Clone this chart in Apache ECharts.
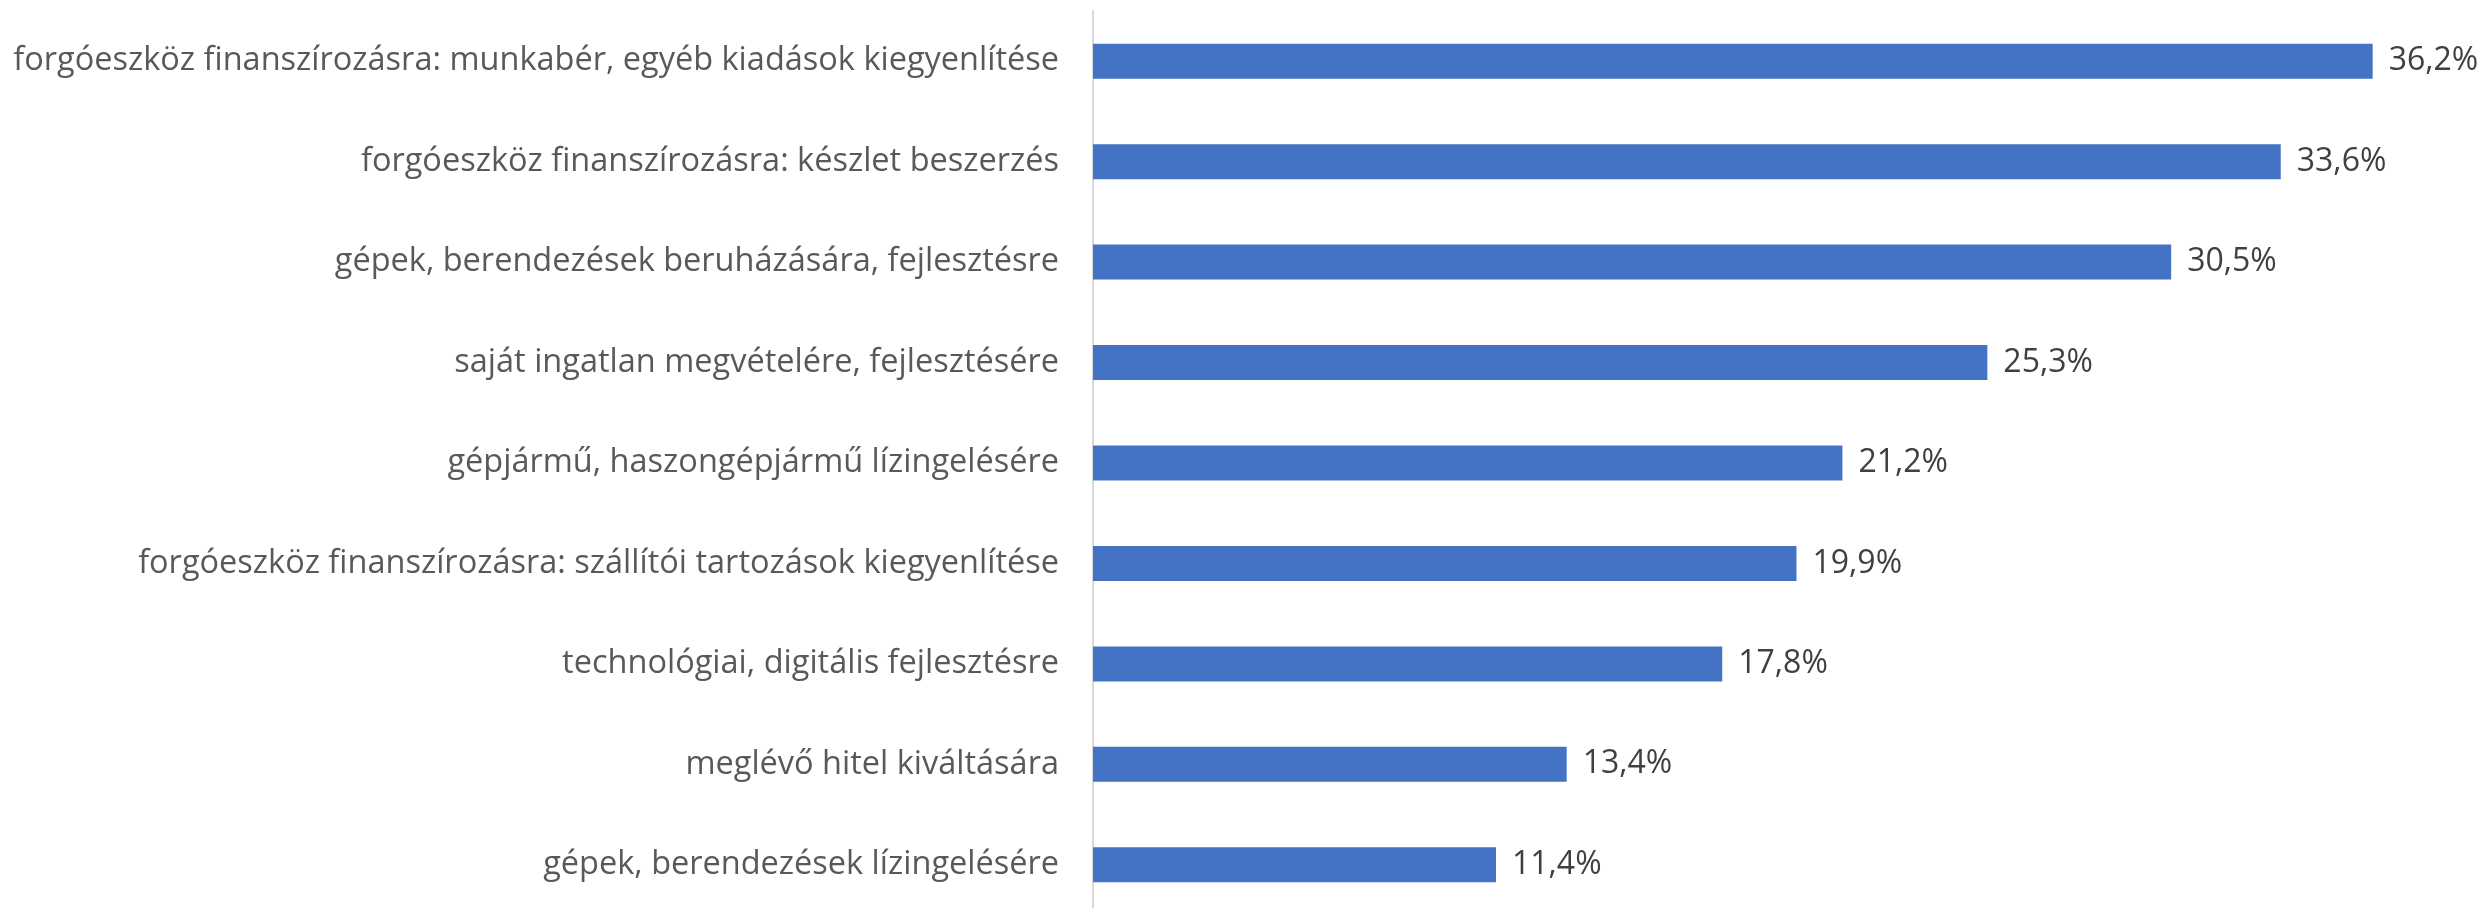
<!DOCTYPE html>
<html>
<head>
<meta charset="utf-8">
<script src="https://cdn.jsdelivr.net/npm/echarts@6/dist/echarts.min.js"></script>
<style>html,body{margin:0;padding:0;background:#fff;}#c{width:2486px;height:908px;}</style>
</head>
<body>
<div id="c"></div>
<script>
const categories = [
  "forgóeszköz finanszírozásra: munkabér, egyéb kiadások kiegyenlítése",
  "forgóeszköz finanszírozásra: készlet beszerzés",
  "gépek, berendezések beruházására, fejlesztésre",
  "saját ingatlan megvételére, fejlesztésére",
  "gépjármű, haszongépjármű lízingelésére",
  "forgóeszköz finanszírozásra: szállítói tartozások kiegyenlítése",
  "technológiai, digitális fejlesztésre",
  "meglévő hitel kiváltására",
  "gépek, berendezések lízingelésére"
];
const values = [36.2, 33.6, 30.5, 25.3, 21.2, 19.9, 17.8, 13.4, 11.4];

const chart = echarts.init(document.getElementById('c'), null, {renderer: 'canvas'});
chart.setOption({
  animation: false,
  grid: {left: 1093, top: 11, width: 1414, height: 904, containLabel: false, outerBoundsMode: 'none'},
  xAxis: {
    type: 'value', min: 0, max: 40,
    axisLine: {show: false}, axisTick: {show: false},
    axisLabel: {show: false}, splitLine: {show: false}
  },
  yAxis: {
    type: 'category', inverse: true, data: categories,
    axisLine: {show: true, lineStyle: {color: '#D9D9D9', width: 2}},
    axisTick: {show: false},
    axisLabel: {color: '#595959', fontFamily: 'Open Sans', fontSize: 32.5, margin: 34}
  },
  series: [{
    type: 'bar', data: values, barWidth: 35,
    itemStyle: {color: '#4472C4'},
    label: {
      show: true, position: 'right', distance: 16,
      color: '#404040', fontFamily: 'Open Sans', fontSize: 32,
      formatter: p => p.value.toFixed(1).replace('.', ',') + '%'
    }
  }]
});
</script>
</body>
</html>
